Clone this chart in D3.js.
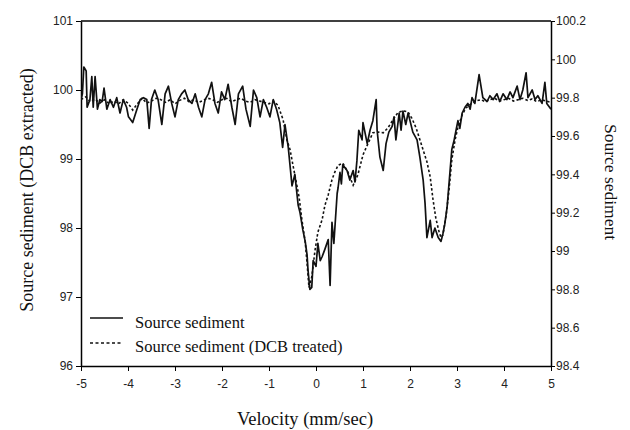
<!DOCTYPE html>
<html><head><meta charset="utf-8">
<script src="https://cdn.jsdelivr.net/npm/d3@7"></script>
<style>body{margin:0;background:#fff}svg{display:block}</style>
</head><body><svg id="c" width="630" height="430"></svg>
<script>
const xTicks = [-5,-4,-3,-2,-1,0,1,2,3,4,5];
const leftTicks = [96,97,98,99,100,101];
const rightTicks = [98.4,98.6,98.8,99,99.2,99.4,99.6,99.8,100,100.2];
const seriesNames = ["Source sediment","Source sediment (DCB treated)"];
const xTitle = "Velocity (mm/sec)";
const leftTitle = "Source sediment (DCB extracted)";
const rightTitle = "Source sediment";

// Source sediment (right axis), [velocity, value]
const sourceSediment = [[-5.00,99.79],[-4.97,99.82],[-4.94,99.96],[-4.89,99.94],[-4.87,99.75],[-4.81,99.79],[-4.77,99.91],[-4.74,99.75],[-4.70,99.91],[-4.65,99.74],[-4.60,99.79],[-4.55,99.78],[-4.51,99.85],[-4.45,99.74],[-4.38,99.79],[-4.31,99.75],[-4.24,99.80],[-4.17,99.72],[-4.10,99.79],[-4.03,99.75],[-3.99,99.70],[-3.90,99.67],[-3.81,99.74],[-3.74,99.79],[-3.67,99.80],[-3.60,99.79],[-3.55,99.64],[-3.50,99.79],[-3.43,99.84],[-3.36,99.79],[-3.28,99.66],[-3.21,99.82],[-3.14,99.86],[-3.07,99.77],[-3.00,99.70],[-2.93,99.79],[-2.86,99.82],[-2.79,99.84],[-2.72,99.79],[-2.64,99.77],[-2.57,99.82],[-2.50,99.75],[-2.43,99.70],[-2.36,99.79],[-2.29,99.82],[-2.22,99.88],[-2.15,99.77],[-2.08,99.72],[-2.01,99.83],[-1.94,99.79],[-1.87,99.87],[-1.79,99.75],[-1.72,99.66],[-1.65,99.82],[-1.56,99.86],[-1.49,99.74],[-1.40,99.65],[-1.33,99.84],[-1.26,99.80],[-1.19,99.70],[-1.12,99.79],[-1.05,99.75],[-0.98,99.70],[-0.91,99.79],[-0.84,99.74],[-0.77,99.67],[-0.71,99.54],[-0.66,99.66],[-0.59,99.54],[-0.51,99.34],[-0.45,99.40],[-0.38,99.24],[-0.34,99.20],[-0.28,99.11],[-0.23,99.05],[-0.19,98.98],[-0.17,98.90],[-0.13,98.80],[-0.09,98.81],[-0.06,98.95],[0.00,98.92],[0.04,99.04],[0.09,98.95],[0.13,98.97],[0.19,99.01],[0.26,99.06],[0.30,98.82],[0.34,99.15],[0.38,99.04],[0.45,99.30],[0.47,99.33],[0.51,99.41],[0.54,99.35],[0.57,99.45],[0.66,99.42],[0.72,99.37],[0.79,99.42],[0.83,99.36],[0.87,99.47],[0.91,99.63],[0.98,99.58],[1.00,99.67],[1.09,99.56],[1.15,99.63],[1.21,99.68],[1.28,99.79],[1.30,99.63],[1.36,99.49],[1.43,99.42],[1.49,99.56],[1.55,99.62],[1.62,99.65],[1.66,99.70],[1.70,99.58],[1.77,99.72],[1.81,99.63],[1.85,99.73],[1.91,99.66],[1.96,99.72],[2.00,99.68],[2.06,99.62],[2.15,99.58],[2.21,99.49],[2.28,99.37],[2.32,99.25],[2.36,99.07],[2.43,99.16],[2.47,99.07],[2.53,99.12],[2.60,99.07],[2.66,99.05],[2.70,99.09],[2.74,99.14],[2.79,99.23],[2.85,99.41],[2.89,99.53],[2.94,99.58],[2.98,99.63],[3.02,99.68],[3.06,99.64],[3.11,99.72],[3.17,99.75],[3.23,99.77],[3.28,99.74],[3.32,99.80],[3.38,99.77],[3.47,99.92],[3.55,99.80],[3.64,99.78],[3.70,99.81],[3.77,99.79],[3.85,99.82],[3.91,99.78],[3.98,99.82],[4.06,99.79],[4.13,99.83],[4.19,99.80],[4.28,99.86],[4.34,99.79],[4.40,99.84],[4.47,99.93],[4.51,99.80],[4.60,99.84],[4.66,99.79],[4.72,99.81],[4.81,99.77],[4.87,99.88],[4.91,99.77],[5.00,99.74]];

// Source sediment (DCB treated) (left axis), [velocity, value]
const dcbTreated = [[-5.0,99.86],[-4.9,99.90],[-4.8,99.83],[-4.7,99.87],[-4.6,99.81],[-4.5,99.86],[-4.4,99.80],[-4.3,99.84],[-4.2,99.80],[-4.1,99.86],[-4.0,99.81],[-3.9,99.71],[-3.8,99.80],[-3.7,99.88],[-3.6,99.81],[-3.5,99.84],[-3.4,99.88],[-3.3,99.86],[-3.2,99.82],[-3.1,99.86],[-3.0,99.80],[-2.9,99.85],[-2.8,99.88],[-2.7,99.83],[-2.6,99.86],[-2.5,99.82],[-2.4,99.85],[-2.3,99.88],[-2.2,99.86],[-2.1,99.82],[-2.0,99.86],[-1.9,99.88],[-1.8,99.83],[-1.7,99.86],[-1.6,99.88],[-1.5,99.84],[-1.4,99.82],[-1.3,99.86],[-1.2,99.84],[-1.1,99.82],[-1.0,99.80],[-0.91,99.84],[-0.81,99.78],[-0.70,99.57],[-0.62,99.28],[-0.55,99.13],[-0.49,98.91],[-0.43,98.70],[-0.36,98.45],[-0.30,98.12],[-0.23,97.80],[-0.19,97.49],[-0.15,97.14],[-0.09,97.29],[-0.02,97.68],[0.04,97.94],[0.13,98.12],[0.19,98.33],[0.26,98.48],[0.34,98.70],[0.40,98.81],[0.47,98.91],[0.57,98.94],[0.68,98.81],[0.79,98.62],[0.89,98.77],[1.00,99.06],[1.11,99.23],[1.21,99.38],[1.32,99.39],[1.43,99.38],[1.53,99.45],[1.64,99.57],[1.74,99.67],[1.85,99.70],[1.96,99.68],[2.04,99.59],[2.13,99.45],[2.21,99.28],[2.28,99.13],[2.36,98.96],[2.43,98.74],[2.49,98.41],[2.55,98.14],[2.62,97.94],[2.66,97.86],[2.70,97.90],[2.77,98.19],[2.83,98.55],[2.89,98.99],[2.96,99.28],[3.02,99.46],[3.11,99.64],[3.19,99.74],[3.30,99.80],[3.40,99.84],[3.51,99.86],[3.6,99.83],[3.7,99.86],[3.8,99.88],[3.9,99.84],[4.0,99.86],[4.1,99.88],[4.2,99.84],[4.3,99.86],[4.4,99.88],[4.5,99.85],[4.6,99.87],[4.7,99.83],[4.8,99.86],[4.9,99.84],[5.0,99.82]];

const m = {l: 81, r: 551, t: 21, b: 366};
const svg = d3.select("#c");
const x = d3.scaleLinear().domain([-5,5]).range([m.l, m.r]);
const yL = d3.scaleLinear().domain([96,101]).range([m.b, m.t]);
const yR = d3.scaleLinear().domain([98.4,100.2]).range([m.b, m.t]);

const tickFont = "'Liberation Sans', Arial, sans-serif";
const serif = "'Liberation Serif', 'Times New Roman', serif";

function style(g){
  g.selectAll("path.domain").attr("stroke","#000").attr("stroke-width",1.5);
  g.selectAll(".tick line").attr("stroke","#000").attr("stroke-width",1);
  g.selectAll(".tick text").attr("font-family",tickFont).attr("font-size",12).attr("fill","#222");
}

svg.append("g").attr("transform",`translate(0,${m.b})`)
  .call(d3.axisBottom(x).tickValues(xTicks).tickSize(5).tickSizeOuter(0).tickPadding(8).tickFormat(d=>String(d)))
  .call(style);
svg.append("g").attr("transform",`translate(${m.l},0)`)
  .call(d3.axisLeft(yL).tickValues(leftTicks).tickSize(5).tickSizeOuter(0).tickPadding(3).tickFormat(d=>String(d)))
  .call(style);
svg.append("g").attr("transform",`translate(${m.r},0)`)
  .call(d3.axisRight(yR).tickValues(rightTicks).tickSize(4).tickSizeOuter(0).tickPadding(1).tickFormat(d=>String(+d.toFixed(1))))
  .call(style);
svg.append("line").attr("x1",m.l).attr("x2",m.r).attr("y1",m.t).attr("y2",m.t)
  .attr("stroke","#000").attr("stroke-width",1.5);

svg.append("clipPath").attr("id","pc").append("rect")
  .attr("x",m.l).attr("y",m.t).attr("width",m.r-m.l).attr("height",m.b-m.t);

const lineR = d3.line().x(d=>x(d[0])).y(d=>yR(d[1]));
const lineL = d3.line().x(d=>x(d[0])).y(d=>yL(d[1]));

svg.append("path").datum(dcbTreated).attr("d",lineL).attr("fill","none")
  .attr("stroke","#111").attr("stroke-width",1.6).attr("stroke-dasharray","2.5,2.2")
  .attr("clip-path","url(#pc)");
svg.append("path").datum(sourceSediment).attr("d",lineR).attr("fill","none")
  .attr("stroke","#111").attr("stroke-width",1.7).attr("stroke-linejoin","round")
  .attr("clip-path","url(#pc)");

const leg = svg.append("g");
[[318, null, 328],[343, "3,2.5", 351.5]].forEach((r,i)=>{
  leg.append("line").attr("x1",90).attr("x2",123).attr("y1",r[0]).attr("y2",r[0])
    .attr("stroke","#111").attr("stroke-width",1.5).attr("stroke-dasharray",r[1]);
  leg.append("text").attr("x",135).attr("y",r[2]).attr("font-family",serif).attr("font-size",16.5)
    .attr("fill","#111").text(seriesNames[i]);
});

svg.append("text").attr("x",305).attr("y",425).attr("text-anchor","middle")
  .attr("font-family",serif).attr("font-size",18.5).attr("fill","#111").text(xTitle);
svg.append("text").attr("transform",`translate(33,190) rotate(-90)`).attr("text-anchor","middle")
  .attr("font-family",serif).attr("font-size",18).attr("fill","#111").text(leftTitle);
svg.append("text").attr("transform",`translate(605,182) rotate(90)`).attr("text-anchor","middle")
  .attr("font-family",serif).attr("font-size",17.5).attr("fill","#111").text(rightTitle);
</script></body></html>
